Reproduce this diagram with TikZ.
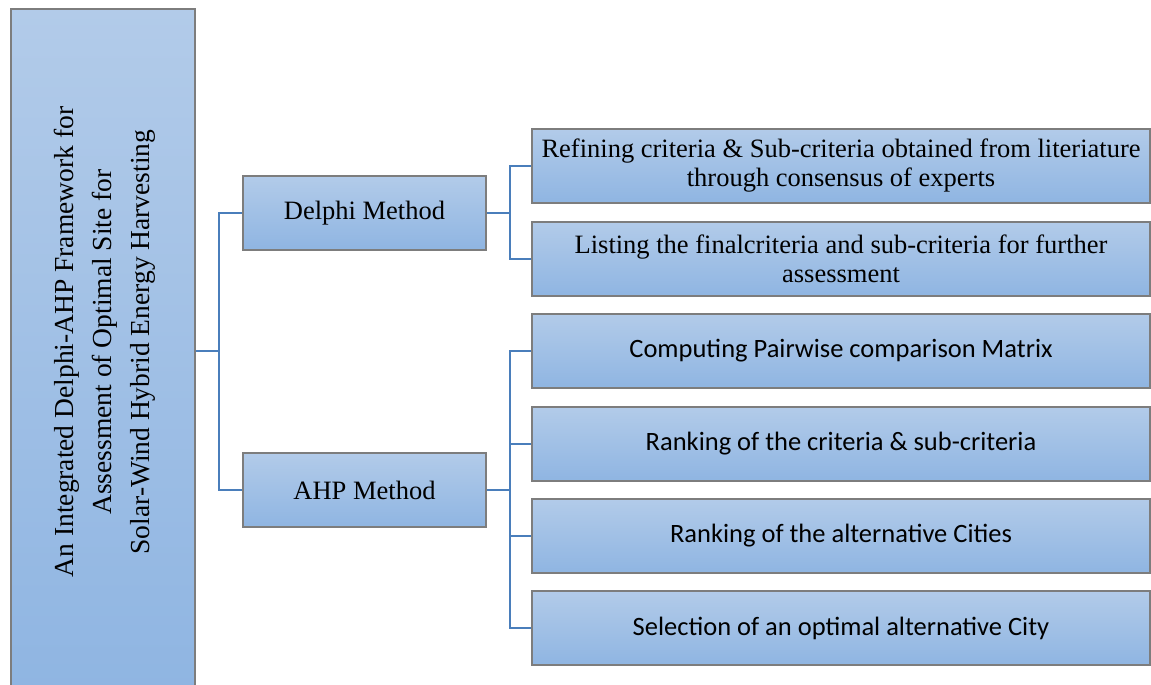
\documentclass[tikz,border=0pt]{standalone}
\usepackage{fontspec}
\setmainfont{Liberation Serif}
\newfontfamily\calfont{Carlito}
\definecolor{boxtop}{RGB}{178,203,233}
\definecolor{boxbot}{RGB}{143,181,226}
\definecolor{boxline}{RGB}{125,125,125}
\definecolor{conncol}{RGB}{74,126,187}
\tikzset{
  gbox/.style={draw=boxline, line width=1.3pt, top color=boxtop, bottom color=boxbot,
    rectangle, inner sep=0pt, align=center, font=\fontsize{26.5}{29}\selectfont},
  midbox/.style={gbox, minimum width=243pt, minimum height=74pt},
  rbox/.style={gbox, minimum width=618pt, minimum height=74pt},
  cbox/.style={rbox, font=\calfont\fontsize{26.5}{29}\selectfont},
  conn/.style={draw=conncol, line width=2.8pt}
}
\begin{document}
\begin{tikzpicture}[x=1pt,y=-1pt]
\useasboundingbox (0,0) rectangle (1151,685);
% main box
\node[gbox, minimum width=184pt, minimum height=684pt] (main) at (103,351) {};
\node[rotate=90, align=center, font=\fontsize{27.5}{38}\selectfont] (maintext) at (105,342)
  {An Integrated Delphi-AHP Framework for\\Assessment of Optimal Site for\\Solar-Wind Hybrid Energy Harvesting};
% middle level
\node[midbox] (delphi) at (364.5,213) {Delphi Method};
\node[midbox] (ahp) at (364.5,490) {AHP Method};
% right level
\node[rbox] (r1) at (841,166) {Refining criteria \& Sub-criteria obtained from literiature\\through consensus of experts};
\node[rbox] (r2) at (841,259) {Listing the finalcriteria and sub-criteria for further\\assessment};
\node[cbox] (r3) at (841,351) {Computing Pairwise comparison Matrix};
\node[cbox] (r4) at (841,444) {Ranking of the criteria \& sub-criteria};
\node[cbox] (r5) at (841,536) {Ranking of the alternative Cities};
\node[cbox] (r6) at (841,628) {Selection of an optimal alternative City};
% junctions
\coordinate (j1) at (219,351);
\coordinate (j2) at (510,213);
\coordinate (j3) at (510,490);
% connectors
\draw[conn] (main.east |- j1) -- (j1);
\draw[conn] (j1) |- (delphi.west);
\draw[conn] (j1) |- (ahp.west);
\draw[conn] (delphi.east) -- (j2);
\draw[conn] (j2) |- (r1.west);
\draw[conn] (j2) |- (r2.west);
\draw[conn] (ahp.east) -- (j3);
\draw[conn] (j3) |- (r3.west);
\draw[conn] (j3) |- (r4.west);
\draw[conn] (j3) |- (r5.west);
\draw[conn] (j3) |- (r6.west);
\end{tikzpicture}
\end{document}
